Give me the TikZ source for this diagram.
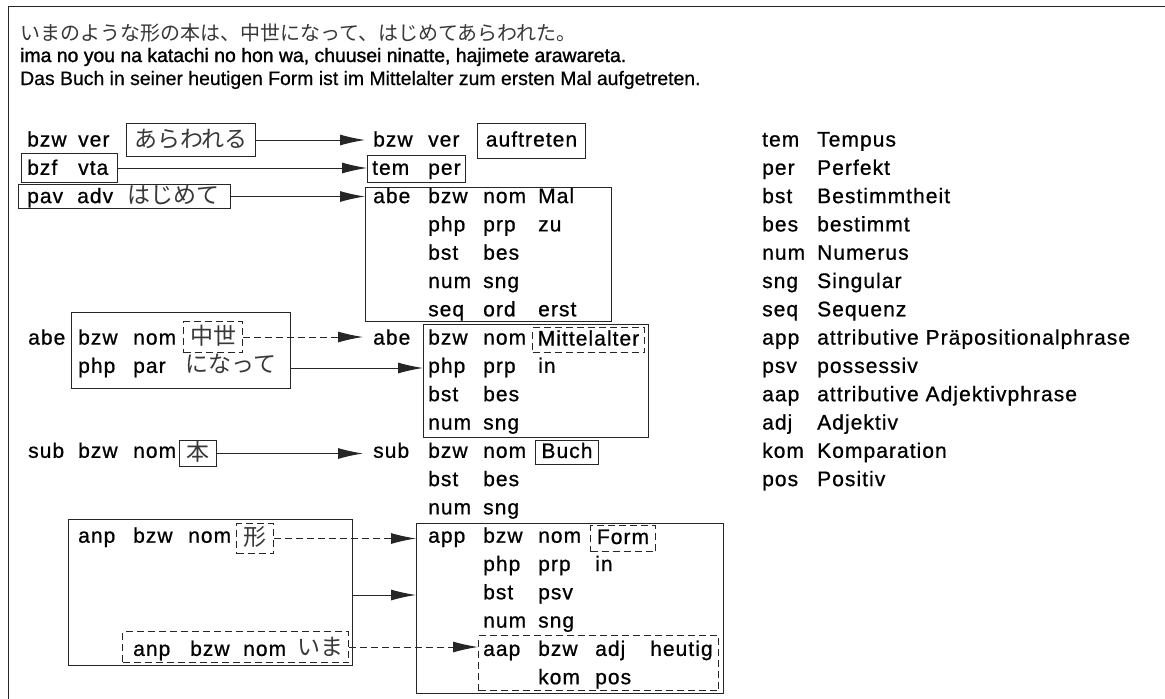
\documentclass[tikz,border=0pt]{standalone}
\usepackage{fontspec}
\setmainfont{Liberation Sans}
\newfontfamily\nf[LetterSpace=5,FakeBold=0.8]{Liberation Sans}
\newfontfamily\hf[FakeBold=0.6]{Liberation Sans}
\newfontfamily\hfb[FakeBold=1.4]{Liberation Sans}
\newfontfamily\jp{Noto Sans CJK JP}
\usetikzlibrary{arrows.meta}
\definecolor{jpgray}{gray}{0.22}
\newcommand\NF{\nf\fontsize{21pt}{24pt}\selectfont}
\newcommand\JF{\jp\fontsize{23pt}{26pt}\selectfont\color{jpgray}}
\newcommand\BL[1]{146.5+28.3*(#1-1)}
\begin{document}
\begin{tikzpicture}[x=1pt,y=-1pt,
  txt/.style={anchor=base west, inner sep=0pt, font=\NF},
  jtx/.style={anchor=base west, inner sep=0pt, font=\JF},
  bx/.style={draw=black!85, line width=1pt, inner sep=0pt, anchor=north west},
  dbx/.style={bx, dash pattern=on 7pt off 4pt},
  lt/.style={font=\NF, text height=15pt, text depth=4pt},
  jt/.style={font=\JF, text height=17pt, text depth=3pt},
  arr/.style={line width=1pt, draw=black!85, -{Latex[length=25pt,width=11pt]}},
  darr/.style={arr, dash pattern=on 7pt off 4pt},
  hd/.style={anchor=base west, inner sep=0pt}]

\useasboundingbox (0,0) rectangle (1165,699);
\fill[white] (0,0) rectangle (1165,699);
\draw[line width=1pt, black!85] (8,699) -- (8,6.5) -- (1165,6.5);

% header
\node[hd, font=\jp\fontsize{20pt}{24pt}\selectfont\color{jpgray}] (h1) at (20,40) {いまのような形の本は、中世になって、はじめてあらわれた。};
\node[hd, font=\hfb\fontsize{19.4pt}{24pt}\selectfont] (h2) at (20,62) {ima no you na katachi no hon wa, chuusei ninatte, hajimete arawareta.};
\node[hd, font=\hf\fontsize{19.4pt}{24pt}\selectfont] (h3) at (20,85) {Das Buch in seiner heutigen Form ist im Mittelalter zum ersten Mal aufgetreten.};

% ---------- left side ----------
\node[txt] (l1a) at (27,{\BL{1}}) {bzw};
\node[txt] (l1b) at (78,{\BL{1}}) {ver};
\node[bx,jt,minimum width=129pt,minimum height=33pt] (ara) at (126,123) {あらわれる};

\node[bx,minimum width=96pt,minimum height=29pt] (bzf) at (21,153) {};
\node[txt] (l2a) at (27,{\BL{2}}) {bzf};
\node[txt] (l2b) at (78,{\BL{2}}) {vta};

\node[bx,minimum width=212pt,minimum height=24pt] (pav) at (18,184) {};
\node[txt] (l3a) at (27,{\BL{3}}) {pav};
\node[txt] (l3b) at (77,{\BL{3}}) {adv};
\node[jtx] (l3c) at (127,{\BL{3}}) {はじめて};

\node[txt] (l8a) at (28,{\BL{8}}) {abe};
\node[bx,minimum width=219pt,minimum height=76pt] (abel) at (71,312) {};
\node[txt] (l8b) at (78,{\BL{8}}) {bzw};
\node[txt] (l8c) at (133,{\BL{8}}) {nom};
\node[dbx,jt,minimum width=59pt,minimum height=31pt] (chu) at (183,321) {中世};
\node[txt] (l9a) at (78,{\BL{9}}) {php};
\node[txt] (l9b) at (133,{\BL{9}}) {par};
\node[jtx] (l9c) at (185,{\BL{9}}) {になって};

\node[txt] (l12a) at (28,{\BL{12}}) {sub};
\node[txt] (l12b) at (78,{\BL{12}}) {bzw};
\node[txt] (l12c) at (133,{\BL{12}}) {nom};
\node[bx,jt,minimum width=37pt,minimum height=26pt] (hon) at (179,440) {本};

\node[bx,minimum width=284pt,minimum height=146pt] (anpb) at (68,519) {};
\node[txt] (l15a) at (78,{\BL{15}}) {anp};
\node[txt] (l15b) at (133,{\BL{15}}) {bzw};
\node[txt] (l15c) at (188,{\BL{15}}) {nom};
\node[dbx,jt,minimum width=37pt,minimum height=30pt] (kata) at (236,523) {形};
\node[dbx,minimum width=226pt,minimum height=31pt] (imab) at (122,631) {};
\node[txt] (l19a) at (133,{\BL{19}}) {anp};
\node[txt] (l19b) at (190,{\BL{19}}) {bzw};
\node[txt] (l19c) at (243,{\BL{19}}) {nom};
\node[jtx] (l19d) at (297,{\BL{19}}) {いま};

% ---------- right side ----------
\node[txt] (r1a) at (373,{\BL{1}}) {bzw};
\node[txt] (r1b) at (428,{\BL{1}}) {ver};
\node[bx,lt,minimum width=108pt,minimum height=35pt] (auf) at (477,123) {auftreten};

\node[bx,minimum width=98pt,minimum height=27pt] (tp) at (367,155) {};
\node[txt] (r2a) at (372,{\BL{2}}) {tem};
\node[txt] (r2b) at (428,{\BL{2}}) {per};

\node[bx,minimum width=246pt,minimum height=134pt] (mal) at (365,187) {};
\node[txt] (r3a) at (373,{\BL{3}}) {abe};
\node[txt] (r3b) at (428,{\BL{3}}) {bzw};
\node[txt] (r3c) at (483,{\BL{3}}) {nom};
\node[txt] (r3d) at (538,{\BL{3}}) {Mal};
\node[txt] (r4a) at (428,{\BL{4}}) {php};
\node[txt] (r4b) at (483,{\BL{4}}) {prp};
\node[txt] (r4c) at (538,{\BL{4}}) {zu};
\node[txt] (r5a) at (428,{\BL{5}}) {bst};
\node[txt] (r5b) at (483,{\BL{5}}) {bes};
\node[txt] (r6a) at (428,{\BL{6}}) {num};
\node[txt] (r6b) at (483,{\BL{6}}) {sng};
\node[txt] (r7a) at (428,{\BL{7}}) {seq};
\node[txt] (r7b) at (483,{\BL{7}}) {ord};
\node[txt] (r7c) at (538,{\BL{7}}) {erst};

\node[txt] (r8a) at (373,{\BL{8}}) {abe};
\node[bx,minimum width=225pt,minimum height=113pt] (mit) at (423,324) {};
\node[txt] (r8b) at (428,{\BL{8}}) {bzw};
\node[txt] (r8c) at (483,{\BL{8}}) {nom};
\node[dbx,lt,minimum width=112pt,minimum height=25pt] (mitt) at (532,327) {Mittelalter};
\node[txt] (r9a) at (428,{\BL{9}}) {php};
\node[txt] (r9b) at (483,{\BL{9}}) {prp};
\node[txt] (r9c) at (538,{\BL{9}}) {in};
\node[txt] (r10a) at (428,{\BL{10}}) {bst};
\node[txt] (r10b) at (483,{\BL{10}}) {bes};
\node[txt] (r11a) at (428,{\BL{11}}) {num};
\node[txt] (r11b) at (483,{\BL{11}}) {sng};

\node[txt] (r12a) at (373,{\BL{12}}) {sub};
\node[txt] (r12b) at (428,{\BL{12}}) {bzw};
\node[txt] (r12c) at (483,{\BL{12}}) {nom};
\node[bx,lt,minimum width=63pt,minimum height=24pt] (buch) at (535,440) {Buch};
\node[txt] (r13a) at (428,{\BL{13}}) {bst};
\node[txt] (r13b) at (483,{\BL{13}}) {bes};
\node[txt] (r14a) at (428,{\BL{14}}) {num};
\node[txt] (r14b) at (483,{\BL{14}}) {sng};

\node[bx,minimum width=307pt,minimum height=170pt] (form) at (416,523) {};
\node[txt] (r15a) at (428,{\BL{15}}) {app};
\node[txt] (r15b) at (483,{\BL{15}}) {bzw};
\node[txt] (r15c) at (538,{\BL{15}}) {nom};
\node[dbx,lt,minimum width=65pt,minimum height=26pt] (formw) at (590,525) {Form};
\node[txt] (r16a) at (483,{\BL{16}}) {php};
\node[txt] (r16b) at (538,{\BL{16}}) {prp};
\node[txt] (r16c) at (595,{\BL{16}}) {in};
\node[txt] (r17a) at (483,{\BL{17}}) {bst};
\node[txt] (r17b) at (538,{\BL{17}}) {psv};
\node[txt] (r18a) at (483,{\BL{18}}) {num};
\node[txt] (r18b) at (538,{\BL{18}}) {sng};
\node[dbx,minimum width=240pt,minimum height=55pt] (heut) at (478,635) {};
\node[txt] (r19a) at (483,{\BL{19}}) {aap};
\node[txt] (r19b) at (538,{\BL{19}}) {bzw};
\node[txt] (r19c) at (595,{\BL{19}}) {adj};
\node[txt] (r19d) at (650,{\BL{19}}) {heutig};
\node[txt] (r20a) at (538,{\BL{20}}) {kom};
\node[txt] (r20b) at (595,{\BL{20}}) {pos};

% ---------- legend ----------
\foreach \k/\a/\b in {1/tem/Tempus, 2/per/Perfekt, 3/bst/Bestimmtheit, 4/bes/bestimmt,
  5/num/Numerus, 6/sng/Singular, 7/seq/Sequenz, 8/app/attributive Präpositionalphrase,
  9/psv/possessiv, 10/aap/attributive Adjektivphrase, 11/adj/Adjektiv,
  12/kom/Komparation, 13/pos/Positiv}{
  \node[txt] (g\k a) at (762,{\BL{\k}}) {\a};
  \node[txt] (g\k b) at (817,{\BL{\k}}) {\b};
}

% ---------- connectors ----------
\coordinate (y9) at (0,368);
\coordinate (y17) at (0,595);
\draw[arr, shorten >=8pt] (ara.east) -- (ara.east -| r1a.west);
\draw[arr] (bzf.east) -- (bzf.east -| tp.west);
\draw[arr] (pav.east) -- (pav.east -| mal.west);
\draw[darr, shorten >=10pt] (chu.east) -- (chu.east -| r8a.west);
\draw[arr] (abel.east |- y9) -- (mit.west |- y9);
\draw[arr, shorten >=10pt] (hon.east) -- (hon.east -| r12a.west);
\draw[darr] (kata.east) -- (kata.east -| form.west);
\draw[arr] (anpb.east |- y17) -- (form.west |- y17);
\draw[darr] (imab.east) -- (imab.east -| heut.west);
\end{tikzpicture}
\end{document}
